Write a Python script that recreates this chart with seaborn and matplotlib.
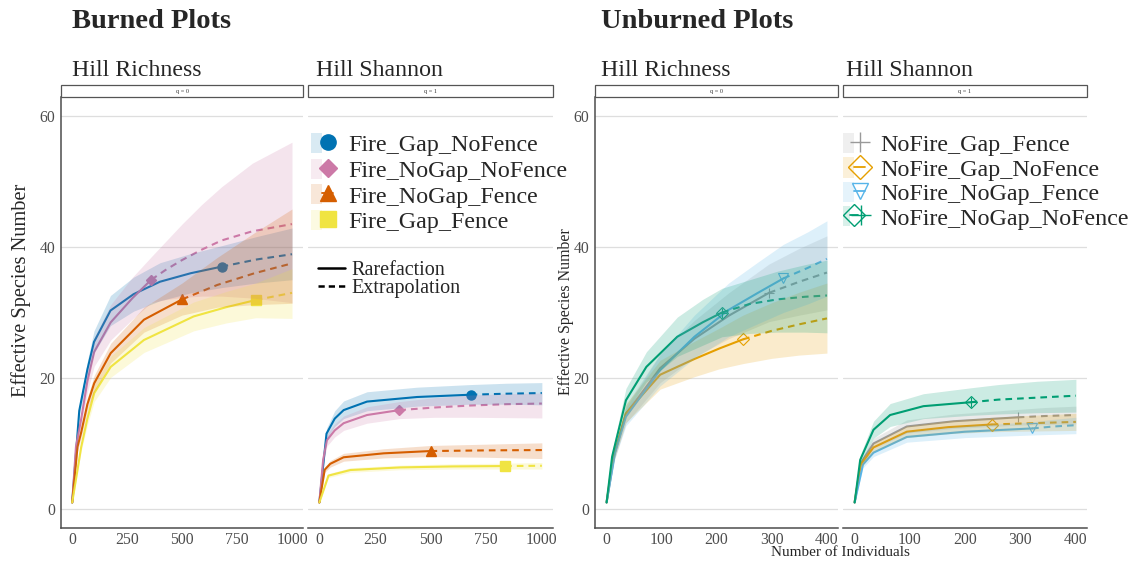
import numpy as np
import pandas as pd
import matplotlib
matplotlib.use("Agg")
import matplotlib.pyplot as plt
import seaborn as sns
from matplotlib.lines import Line2D
from matplotlib.patches import Patch, Rectangle
from matplotlib.legend_handler import HandlerTuple

# ------------------------------------------------------------------ data
burned_groups = ["Fire_Gap_NoFence", "Fire_NoGap_NoFence", "Fire_NoGap_Fence", "Fire_Gap_Fence"]
unburned_groups = ["NoFire_Gap_Fence", "NoFire_Gap_NoFence", "NoFire_NoGap_Fence", "NoFire_NoGap_NoFence"]
burned_obs_n = [680, 360, 500, 835]
unburned_obs_n = [295, 248, 321, 210]
burned_xticks = [0, 250, 500, 750, 1000]
unburned_xticks = [0, 100, 200, 300, 400]
yticks = [0, 20, 40, 60]

# Burned, Hill richness (q = 0)
b0_gnf_x = [1, 33, 70, 100, 175, 280, 400, 540, 680, 840, 1000]
b0_gnf_y = [1, 15.0, 21.3, 25.5, 30.3, 32.8, 34.7, 36.0, 37.0, 38.1, 38.9]
b0_gnf_lo = [1, 14.2, 20.0, 23.8, 28.0, 30.2, 31.8, 33.0, 33.8, 34.5, 35.0]
b0_gnf_hi = [1, 15.8, 22.6, 27.2, 32.6, 35.4, 37.6, 39.0, 40.2, 41.6, 42.9]
b0_ngnf_x = [1, 18, 41, 70, 101, 176, 275, 360, 430, 500, 590, 680, 820, 1000]
b0_ngnf_y = [1, 9.5, 13.6, 19.5, 24.0, 28.5, 32.2, 35.0, 36.6, 38.0, 39.6, 41.0, 42.4, 43.5]
b0_ngnf_lo = [1, 8.8, 12.6, 17.8, 21.8, 25.8, 29.0, 31.5, 32.0, 32.3, 32.5, 32.5, 32.2, 31.5]
b0_ngnf_hi = [1, 10.2, 14.6, 21.2, 26.2, 31.2, 35.4, 38.5, 41.0, 43.5, 46.5, 49.2, 52.8, 56.0]
b0_ngf_x = [1, 25, 41, 70, 101, 176, 327, 500, 660, 830, 1000]
b0_ngf_y = [1, 9.5, 11.6, 16.0, 19.2, 23.8, 28.9, 32.0, 34.2, 36.0, 37.5]
b0_ngf_lo = [1, 8.8, 10.8, 15.0, 18.0, 22.3, 27.0, 29.6, 30.8, 31.2, 31.4]
b0_ngf_hi = [1, 10.2, 12.4, 17.0, 20.4, 25.3, 30.8, 34.5, 38.4, 42.2, 45.8]
b0_gf_x = [1, 42, 70, 101, 176, 327, 553, 700, 835, 1000]
b0_gf_y = [1, 9.5, 13.8, 17.7, 21.7, 25.8, 29.4, 30.8, 31.9, 33.0]
b0_gf_lo = [1, 8.9, 12.8, 16.4, 20.1, 23.9, 27.2, 28.4, 29.2, 29.1]
b0_gf_hi = [1, 10.1, 14.8, 19.0, 23.3, 27.7, 31.6, 33.2, 34.5, 36.7]

# Burned, Hill Shannon (q = 1)
b1_gnf_x = [1, 33, 70, 110, 215, 440, 680, 840, 1000]
b1_gnf_y = [1, 11.5, 13.8, 15.1, 16.4, 17.1, 17.45, 17.6, 17.7]
b1_gnf_lo = [1, 10.7, 12.6, 13.8, 15.0, 15.7, 16.0, 16.0, 15.9]
b1_gnf_hi = [1, 12.3, 15.0, 16.5, 17.9, 18.6, 19.0, 19.2, 19.3]
b1_ngnf_x = [1, 18, 35, 70, 110, 215, 360, 520, 680, 840, 1000]
b1_ngnf_y = [1, 7.5, 10.5, 12.0, 13.1, 14.35, 15.1, 15.5, 15.8, 16.0, 16.1]
b1_ngnf_lo = [1, 6.8, 9.6, 11.0, 12.0, 13.1, 13.8, 14.0, 14.0, 13.95, 13.9]
b1_ngnf_hi = [1, 8.2, 11.4, 13.0, 14.2, 15.6, 16.4, 17.0, 17.4, 17.6, 17.7]
b1_ngf_x = [1, 25, 50, 110, 290, 500, 750, 1000]
b1_ngf_y = [1, 6.0, 6.9, 7.9, 8.5, 8.85, 8.95, 9.0]
b1_ngf_lo = [1, 5.6, 6.4, 7.3, 7.8, 8.0, 7.9, 7.7]
b1_ngf_hi = [1, 6.4, 7.4, 8.5, 9.2, 9.7, 9.9, 10.1]
b1_gf_x = [1, 42, 140, 365, 600, 835, 1000]
b1_gf_y = [1, 5.1, 5.95, 6.35, 6.5, 6.56, 6.6]
b1_gf_lo = [1, 4.8, 5.6, 6.0, 6.1, 6.1, 6.1]
b1_gf_hi = [1, 5.4, 6.3, 6.7, 6.9, 7.0, 7.1]

# Unburned, Hill richness (q = 0)
u0_gf_x = [1, 15, 36, 98, 160, 222, 295, 350, 400]
u0_gf_y = [1, 8.3, 14.5, 21.5, 26.0, 29.5, 33.0, 34.7, 36.1]
u0_gf_lo = [1, 7.5, 13.1, 19.3, 23.2, 26.0, 28.6, 29.6, 30.4]
u0_gf_hi = [1, 9.1, 15.9, 23.7, 28.8, 33.0, 37.4, 39.8, 41.7]
u0_gnf_x = [1, 12, 36, 98, 160, 205, 248, 300, 350, 400]
u0_gnf_y = [1, 7.5, 14.6, 20.5, 22.9, 24.5, 25.9, 27.2, 28.2, 29.1]
u0_gnf_lo = [1, 6.8, 13.2, 18.3, 20.2, 21.4, 22.2, 23.0, 23.5, 23.8]
u0_gnf_hi = [1, 8.2, 16.0, 22.7, 25.6, 27.6, 29.6, 31.5, 33.1, 34.5]
u0_ngf_x = [1, 16, 36, 98, 160, 222, 275, 321, 365, 400]
u0_ngf_y = [1, 8.5, 14.1, 21.2, 26.3, 30.4, 33.0, 35.2, 36.8, 38.2]
u0_ngf_lo = [1, 7.7, 12.7, 18.8, 23.0, 26.3, 28.3, 30.0, 31.3, 32.5]
u0_ngf_hi = [1, 9.3, 15.5, 23.6, 29.6, 34.5, 37.7, 40.4, 42.3, 44.0]
u0_ngnf_x = [1, 11, 36, 73, 129, 175, 210, 260, 310, 360, 400]
u0_ngnf_y = [1, 8.0, 16.6, 21.7, 26.3, 28.5, 30.0, 31.3, 32.0, 32.4, 32.6]
u0_ngnf_lo = [1, 7.2, 14.8, 19.4, 23.3, 25.0, 26.3, 26.8, 27.0, 27.0, 26.9]
u0_ngnf_hi = [1, 8.8, 18.4, 24.0, 29.3, 32.0, 33.7, 35.0, 36.3, 37.3, 38.0]

# Unburned, Hill Shannon (q = 1)
u1_gf_x = [1, 12, 35, 95, 180, 295, 345, 400]
u1_gf_y = [1, 7.0, 10.0, 12.6, 13.4, 14.0, 14.2, 14.35]
u1_gf_lo = [1, 6.5, 9.2, 11.6, 12.3, 12.8, 12.9, 13.0]
u1_gf_hi = [1, 7.5, 10.8, 13.6, 14.5, 15.2, 15.5, 15.7]
u1_gnf_x = [1, 12, 35, 95, 170, 248, 320, 400]
u1_gnf_y = [1, 6.8, 9.4, 11.8, 12.5, 12.9, 13.1, 13.3]
u1_gnf_lo = [1, 6.3, 8.7, 10.9, 11.5, 11.8, 11.9, 12.0]
u1_gnf_hi = [1, 7.3, 10.1, 12.7, 13.5, 14.0, 14.3, 14.6]
u1_ngf_x = [1, 16, 35, 95, 200, 321, 360, 400]
u1_ngf_y = [1, 6.8, 8.6, 11.0, 11.8, 12.3, 12.6, 12.8]
u1_ngf_lo = [1, 6.3, 8.0, 10.2, 10.9, 11.3, 11.4, 11.5]
u1_ngf_hi = [1, 7.3, 9.2, 11.8, 12.7, 13.3, 13.7, 14.0]
u1_ngnf_x = [1, 11, 35, 65, 125, 210, 260, 330, 400]
u1_ngnf_y = [1, 7.5, 12.1, 14.35, 15.7, 16.3, 16.7, 17.0, 17.3]
u1_ngnf_lo = [1, 6.8, 10.8, 12.6, 13.8, 14.3, 14.5, 14.7, 14.8]
u1_ngnf_hi = [1, 8.2, 13.4, 16.1, 17.6, 18.5, 19.0, 19.5, 19.8]

# ------------------------------------------------------------------ styles
burned_colors = ["#0072B2", "#CC79A7", "#D55E00", "#F0E442"]
burned_markers = ["o", "D", "^", "s"]
unburned_colors = ["#999999", "#E69F00", "#56B4E9", "#009E73"]
unburned_markers = ["+", "D", "v", "D+"]

sns.set_theme(style="white")
plt.rcParams["font.family"] = ["Liberation Serif", "DejaVu Serif"]

W, H = 1137, 562
fig = plt.figure(figsize=(W / 100, H / 100), dpi=100)


def rect(l, t, r, b):
    return [l / W, 1 - b / H, (r - l) / W, (b - t) / H]


def build_df(groups, obs, curves):
    rows = []
    for g, n, (xs, ys, lo, hi) in zip(groups, obs, curves):
        for x, y, a, b in zip(xs, ys, lo, hi):
            rows.append(dict(group=g, m=x, qD=y, lo=a, hi=b, obs_n=n))
    return pd.DataFrame(rows)


DASH = (0, (3.2, 2.4))


def draw_marker(ax, x, y, col, mk, filled, ms):
    if mk == "D+":
        ax.plot([x], [y], marker="D", ms=ms * 0.9, mfc="none", mec=col, mew=0.8, ls="none", zorder=4)
        ax.plot([x], [y], marker="+", ms=ms * 1.1, mec=col, mew=0.8, ls="none", zorder=4)
    elif filled:
        ax.plot([x], [y], marker=mk, ms=ms * (0.8 if mk == "D" else 1.0), color=col, ls="none", zorder=4)
    else:
        ax.plot([x], [y], marker=mk, ms=ms, mfc="none", mec=col, mew=0.8, ls="none", zorder=4)


def draw_panel(ax, df, groups, colors, markers, filled, xlim, xticks, show_y):
    for g, col, mk in zip(groups, colors, markers):
        d = df[df.group == g]
        n = d.obs_n.iloc[0]
        rare = d[d.m <= n]
        extra = d[d.m >= n]
        sns.lineplot(data=rare, x="m", y="qD", ax=ax, color=col, lw=1.5,
                     errorbar=None, estimator=None, zorder=3)
        sns.lineplot(data=extra, x="m", y="qD", ax=ax, color=col, lw=1.5,
                     errorbar=None, estimator=None, linestyle=DASH, zorder=3)
        obs_y = d[d.m == n].qD.iloc[0]
        draw_marker(ax, n, obs_y, col, mk, filled, 6.5)
    for g, col in zip(groups, colors):
        d = df[df.group == g]
        ax.fill_between(d.m, d.lo, d.hi, color=col, alpha=0.2, lw=0, zorder=5)
    ax.set_xlim(*xlim)
    ax.set_ylim(-2.9, 62.9)
    ax.set_xticks(xticks)
    ax.set_yticks(yticks)
    ax.set_xlabel("")
    ax.set_ylabel("")
    ax.grid(False)
    for yv in yticks:
        ax.axhline(yv, color="#DEDEDE", lw=0.9, zorder=0)
    for s in ["top", "right"]:
        ax.spines[s].set_visible(False)
    ax.spines["bottom"].set_color("#4D4D4D")
    ax.spines["bottom"].set_linewidth(1.1)
    ax.tick_params(axis="x", colors="#4D4D4D", labelsize=11.3, length=2.5, width=0.8, pad=0.2)
    if show_y:
        ax.spines["left"].set_color("#4D4D4D")
        ax.spines["left"].set_linewidth(1.1)
        ax.tick_params(axis="y", colors="#4D4D4D", labelsize=11.3, length=2.5, width=0.8, pad=1.5)
    else:
        ax.spines["left"].set_visible(False)
        ax.tick_params(axis="y", left=False, labelleft=False)
    ax.set_facecolor("white")


b0 = build_df(burned_groups, burned_obs_n, [
    (b0_gnf_x, b0_gnf_y, b0_gnf_lo, b0_gnf_hi),
    (b0_ngnf_x, b0_ngnf_y, b0_ngnf_lo, b0_ngnf_hi),
    (b0_ngf_x, b0_ngf_y, b0_ngf_lo, b0_ngf_hi),
    (b0_gf_x, b0_gf_y, b0_gf_lo, b0_gf_hi)])
b1 = build_df(burned_groups, burned_obs_n, [
    (b1_gnf_x, b1_gnf_y, b1_gnf_lo, b1_gnf_hi),
    (b1_ngnf_x, b1_ngnf_y, b1_ngnf_lo, b1_ngnf_hi),
    (b1_ngf_x, b1_ngf_y, b1_ngf_lo, b1_ngf_hi),
    (b1_gf_x, b1_gf_y, b1_gf_lo, b1_gf_hi)])
u0 = build_df(unburned_groups, unburned_obs_n, [
    (u0_gf_x, u0_gf_y, u0_gf_lo, u0_gf_hi),
    (u0_gnf_x, u0_gnf_y, u0_gnf_lo, u0_gnf_hi),
    (u0_ngf_x, u0_ngf_y, u0_ngf_lo, u0_ngf_hi),
    (u0_ngnf_x, u0_ngnf_y, u0_ngnf_lo, u0_ngnf_hi)])
u1 = build_df(unburned_groups, unburned_obs_n, [
    (u1_gf_x, u1_gf_y, u1_gf_lo, u1_gf_hi),
    (u1_gnf_x, u1_gnf_y, u1_gnf_lo, u1_gnf_hi),
    (u1_ngf_x, u1_ngf_y, u1_ngf_lo, u1_ngf_hi),
    (u1_ngnf_x, u1_ngnf_y, u1_ngnf_lo, u1_ngnf_hi)])

panels = [
    (61, 303, b0, burned_groups, burned_colors, burned_markers, True, (-50, 1050), burned_xticks, True, "Hill Richness", 72, "q = 0"),
    (308, 553, b1, burned_groups, burned_colors, burned_markers, True, (-50, 1050), burned_xticks, False, "Hill Shannon", 316, "q = 1"),
    (595, 838, u0, unburned_groups, unburned_colors, unburned_markers, False, (-20, 420), unburned_xticks, True, "Hill Richness", 601, "q = 0"),
    (843, 1087, u1, unburned_groups, unburned_colors, unburned_markers, False, (-20, 420), unburned_xticks, False, "Hill Shannon", 846, "q = 1"),
]
axes = []
for (l, r, df, groups, cols, mks, filled, xlim, xt, showy, title, tx, qlab) in panels:
    ax = fig.add_axes(rect(l, 97, r, 528))
    draw_panel(ax, df, groups, cols, mks, filled, xlim, xt, showy)
    axes.append(ax)
    # strip
    fig.patches.append(Rectangle((l / W, 1 - 97 / H), (r - l) / W, 12 / H,
                                 transform=fig.transFigure, facecolor="white",
                                 edgecolor="#555555", lw=0.9))
    fig.text((l + r) / 2 / W, 1 - 91 / H, qlab, ha="center", va="center", fontsize=4.5, color="#333333")
    fig.text(tx / W, 1 - 70 / H, title, ha="left", va="center", fontsize=17.2)

fig.text(72 / W, 1 - 21 / H, "Burned Plots", ha="left", va="center", fontsize=20.5, fontweight="bold")
fig.text(601 / W, 1 - 21 / H, "Unburned Plots", ha="left", va="center", fontsize=20.5, fontweight="bold")
fig.text(21 / W, 1 - 290 / H, "Effective Species Number", rotation=90, ha="center", va="center", fontsize=14.7)
fig.text(566 / W, 1 - 312 / H, "Effective Species Number", rotation=90, ha="center", va="center", fontsize=11.4)
fig.text(840 / W, 1 - 552 / H, "Number of Individuals", ha="center", va="center", fontsize=11.0)

# ------------------------------------------------------------------ legends
def group_handles(groups, colors, markers, filled):
    hs = []
    for col, mk in zip(colors, markers):
        patch = Patch(facecolor=col, alpha=0.15, edgecolor="none")
        if mk == "D+":
            l1 = Line2D([], [], color=col, lw=1.3, marker="D", ms=11, mfc="none", mec=col, mew=1.0)
            l2 = Line2D([], [], color=col, lw=0, marker="+", ms=15, mec=col, mew=1.0)
            hs.append((patch, l1, l2))
        elif filled:
            hs.append((patch, Line2D([], [], color=col, lw=1.3, marker=mk, ms=11 if mk != "D" else 9, mec=col)))
        else:
            hs.append((patch, Line2D([], [], color=col, lw=1.3 if mk != "+" else 0, marker=mk,
                                     ms=15 if mk == "+" else 12, mfc="none", mec=col, mew=1.0)))
    return hs


LEG_FS = 17.3
leg1 = axes[1].legend(group_handles(burned_groups, burned_colors, burned_markers, True), burned_groups,
                      handler_map={tuple: HandlerTuple(ndivide=None, pad=0)},
                      loc="upper left", bbox_to_anchor=(311 / W, 1 - 133 / H), bbox_transform=fig.transFigure,
                      frameon=False, fontsize=LEG_FS, handlelength=0.92, handleheight=0.92,
                      labelspacing=0.09, handletextpad=0.62, borderpad=0, borderaxespad=0)
leg1.set_zorder(10)
axes[1].add_artist(leg1)
leg2 = axes[1].legend([Line2D([], [], color="black", lw=1.8), Line2D([], [], color="black", lw=1.8, linestyle=(0, (2.5, 1.6)))],
                      ["Rarefaction", "Extrapolation"], loc="upper left",
                      bbox_to_anchor=(318 / W, 1 - 261 / H), bbox_transform=fig.transFigure,
                      frameon=False, fontsize=14.5, handlelength=1.35, labelspacing=-0.07,
                      handletextpad=0.3, borderpad=0, borderaxespad=0)
leg2.set_zorder(10)

leg3 = axes[3].legend(group_handles(unburned_groups, unburned_colors, unburned_markers, False), unburned_groups,
                      handler_map={tuple: HandlerTuple(ndivide=None, pad=0)},
                      loc="upper left", bbox_to_anchor=(843 / W, 1 - 133 / H), bbox_transform=fig.transFigure,
                      frameon=False, fontsize=LEG_FS, handlelength=0.92, handleheight=0.92,
                      labelspacing=0.04, handletextpad=0.62, borderpad=0, borderaxespad=0)
leg3.set_zorder(10)

fig.savefig("out.png", dpi=100)
